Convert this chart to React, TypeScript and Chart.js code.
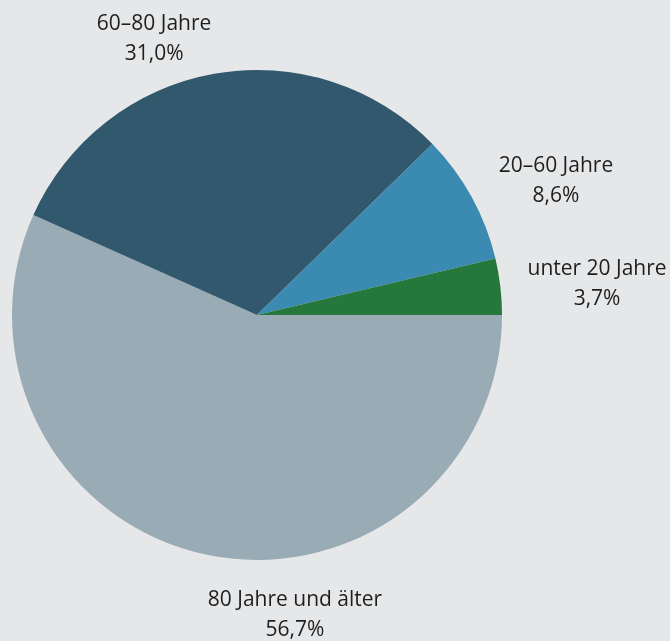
import React, { useEffect, useRef } from "react";
import { Chart, registerables } from "chart.js";

Chart.register(...registerables);

const categories = ["80 Jahre und älter", "60–80 Jahre", "20–60 Jahre", "unter 20 Jahre"];
const shares = [56.7, 31.0, 8.6, 3.7];
const valueLabels = ["56,7%", "31,0%", "8,6%", "3,7%"];
const colors = ["#99abb5", "#32586e", "#3a8ab2", "#25773b"];
// label anchor (line-1 baseline, centered) as fraction of radius from pie center
const labelOffsets = [
  [0.155, 1.188],
  [-0.42, -1.163],
  [1.22, -0.584],
  [1.388, -0.163],
];

const BG = "#e6e7e9";

const labelPlugin = {
  id: "outerLabels",
  afterDraw(chart: any) {
    const meta = chart.getDatasetMeta(0);
    const ctx = chart.ctx;
    ctx.save();
    ctx.font = '21px "Open Sans"';
    ctx.fillStyle = "#1e1e1e";
    ctx.textAlign = "center";
    ctx.textBaseline = "alphabetic";
    meta.data.forEach((arc: any, i: number) => {
      const { x, y, outerRadius } = arc.getProps(["x", "y", "outerRadius"], true);
      const lx = x + labelOffsets[i][0] * outerRadius;
      const ly = y + labelOffsets[i][1] * outerRadius;
      ctx.fillText(categories[i], lx, ly);
      ctx.fillText(valueLabels[i], lx, ly + 30);
    });
    ctx.restore();
  },
};

export default function App() {
  const ref = useRef<HTMLCanvasElement>(null);
  useEffect(() => {
    document.body.style.margin = "0";
    document.body.style.background = BG;
    const chart = new Chart(ref.current!, {
      type: "pie",
      data: {
        labels: categories,
        datasets: [
          {
            data: shares,
            backgroundColor: colors,
            borderWidth: 0,
          },
        ],
      },
      options: {
        animation: false,
        responsive: false,
        rotation: 90,
        layout: { padding: { left: 12, top: 70, right: 168, bottom: 81 } },
        plugins: {
          legend: { display: false },
          tooltip: { enabled: false },
        },
      },
      plugins: [labelPlugin],
    });
    return () => chart.destroy();
  }, []);
  return (
    <div style={{ width: 670, height: 641, background: BG }}>
      <canvas ref={ref} width={670} height={641} style={{ display: "block" }} />
    </div>
  );
}
